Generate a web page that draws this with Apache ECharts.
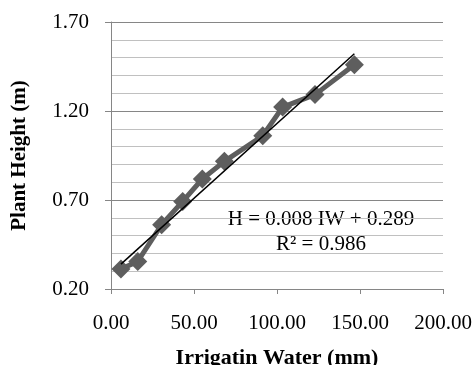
<!DOCTYPE html>
<html>
<head>
<meta charset="utf-8">
<script src="https://cdn.jsdelivr.net/npm/echarts@6/dist/echarts.min.js"></script>
<style>
  html, body { margin: 0; padding: 0; background: #fff; }
  #chart { width: 474px; height: 365px; }
</style>
</head>
<body>
<div id="chart"></div>
<script>
// irrigation water (mm) and plant height (m)
const irrigationWater = [6.0, 16.1, 30.5, 43.2, 55.0, 68.3, 91.4, 103.4, 122.9, 146.6];
const plantHeight = [0.312, 0.355, 0.561, 0.692, 0.818, 0.917, 1.061, 1.222, 1.292, 1.460];

// linear trend line end points
const trendX = [6.0, 146.6];
const trendY = [0.34, 1.522];

const equationText = 'H = 0.008 IW + 0.289';
const r2Text = 'R² = 0.986';

const font = '"Liberation Serif", "Times New Roman", serif';

const chart = echarts.init(document.getElementById('chart'));

chart.setOption({
  animation: false,
  grid: { left: 111, right: 31, top: 22, bottom: 76, containLabel: false, outerBoundsMode: 'none' },
  xAxis: {
    type: 'value',
    min: 0,
    max: 200,
    interval: 50,
    name: 'Irrigatin Water (mm)',
    nameLocation: 'middle',
    nameGap: 58,
    nameTextStyle: { fontFamily: font, fontSize: 22, fontWeight: 'bold', color: '#000' },
    axisLine: { lineStyle: { color: '#868686', width: 1 } },
    axisTick: { show: true, length: 5, lineStyle: { color: '#868686' } },
    axisLabel: {
      margin: 24,
      fontFamily: font,
      fontSize: 21,
      color: '#000',
      formatter: v => v.toFixed(2)
    },
    splitLine: { show: false }
  },
  yAxis: {
    type: 'value',
    min: 0.2,
    max: 1.7,
    interval: 0.5,
    name: 'Plant Height (m)',
    nameLocation: 'middle',
    nameGap: 81,
    nameTextStyle: { fontFamily: font, fontSize: 21, fontWeight: 'bold', color: '#000' },
    axisLine: { show: true, lineStyle: { color: '#868686', width: 1 } },
    axisTick: { show: true, length: 6, lineStyle: { color: '#868686' } },
    axisLabel: {
      margin: 22,
      fontFamily: font,
      fontSize: 21,
      color: '#000',
      formatter: v => v.toFixed(2)
    },
    splitLine: { show: true, lineStyle: { color: '#868686', width: 1 } },
    minorTick: { show: false, splitNumber: 5 },
    minorSplitLine: { show: true, lineStyle: { color: '#c0c0c0', width: 1 } }
  },
  series: [
    {
      name: 'Plant Height',
      type: 'line',
      data: irrigationWater.map((x, i) => [x, plantHeight[i]]),
      symbol: 'diamond',
      symbolSize: [19, 19],
      itemStyle: { color: '#5e5e5e' },
      lineStyle: { color: '#5e5e5e', width: 5 },
      z: 2
    },
    {
      name: 'Trend',
      type: 'line',
      data: trendX.map((x, i) => [x, trendY[i]]),
      symbol: 'none',
      lineStyle: { color: '#000', width: 1.5 },
      z: 3
    }
  ],
  graphic: [
    {
      type: 'text',
      style: {
        text: equationText,
        x: 321,
        y: 219,
        align: 'center',
        verticalAlign: 'middle',
        font: '21px ' + font,
        fill: '#000'
      }
    },
    {
      type: 'text',
      style: {
        text: r2Text,
        x: 321,
        y: 244,
        align: 'center',
        verticalAlign: 'middle',
        font: '21px ' + font,
        fill: '#000'
      }
    }
  ]
});
</script>
</body>
</html>
